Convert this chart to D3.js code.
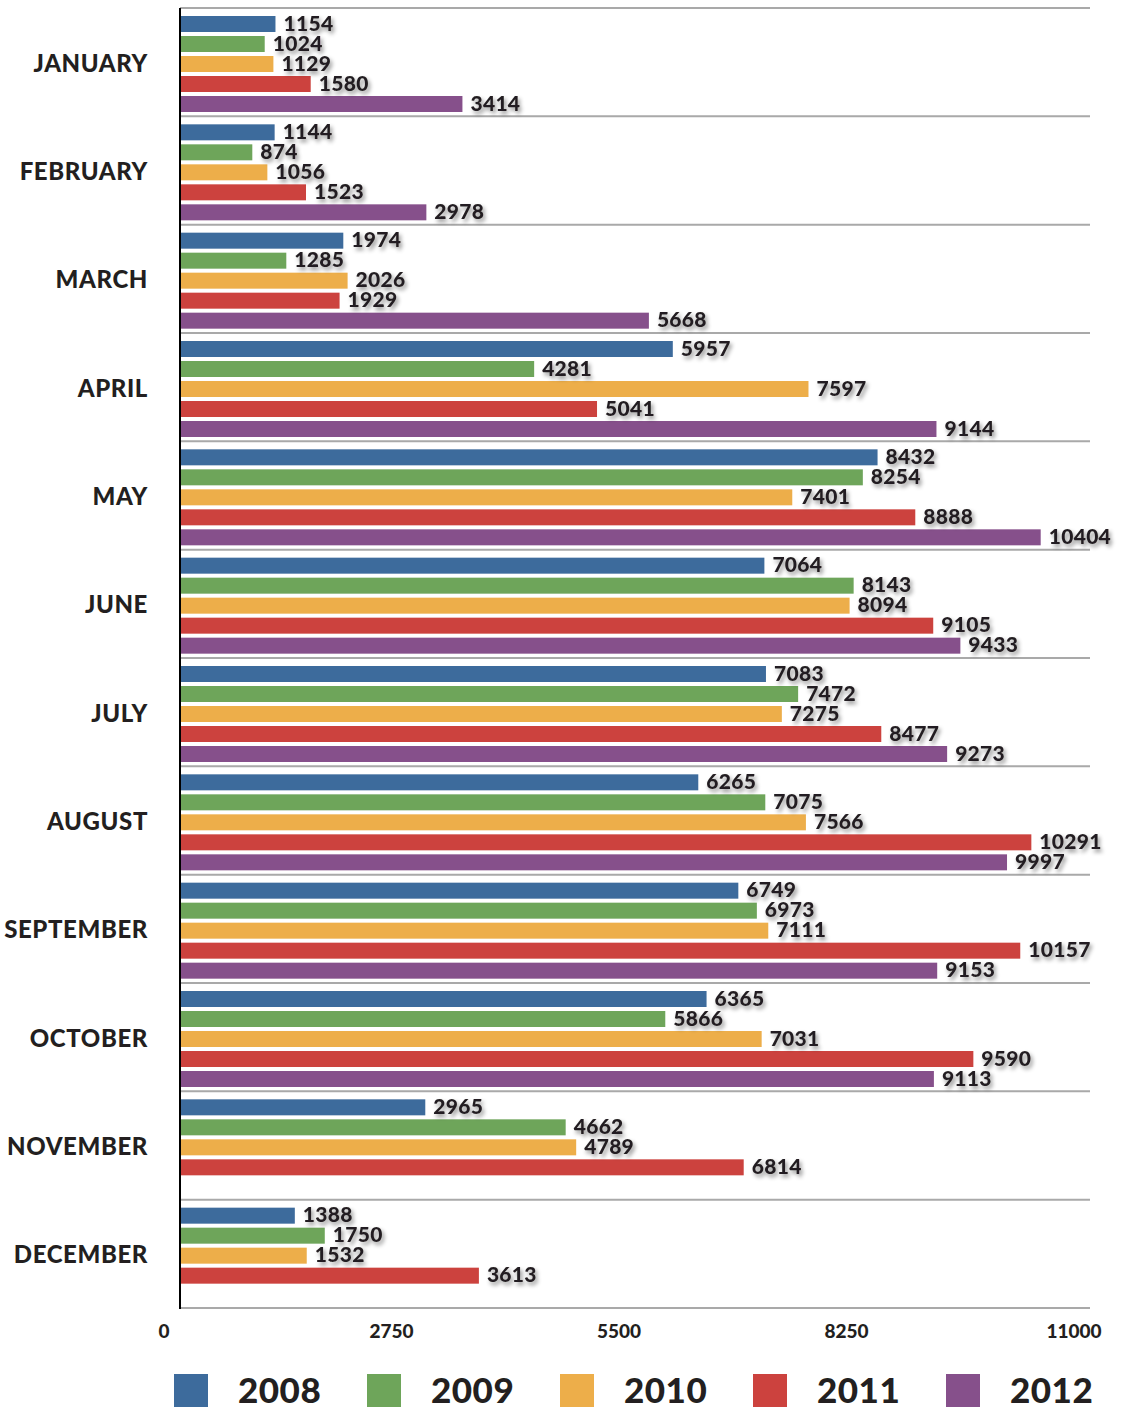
<!DOCTYPE html>
<html>
<head>
<meta charset="utf-8">
<script src="https://cdn.jsdelivr.net/npm/d3@7"></script>
<style>
  html, body { margin: 0; padding: 0; background: #fff; }
  svg { display: block; }
  text { font-family: "Lato", "DejaVu Sans", sans-serif; font-weight: 900; fill: #231f20; }
</style>
</head>
<body>
<script>
const months = ["JANUARY","FEBRUARY","MARCH","APRIL","MAY","JUNE","JULY","AUGUST","SEPTEMBER","OCTOBER","NOVEMBER","DECEMBER"];
const years = ["2008","2009","2010","2011","2012"];
const colors = ["#3d6b9c","#6ea55a","#edae4a","#cc423e","#86508b"];
const v2008 = [1154,1144,1974,5957,8432,7064,7083,6265,6749,6365,2965,1388];
const v2009 = [1024,874,1285,4281,8254,8143,7472,7075,6973,5866,4662,1750];
const v2010 = [1129,1056,2026,7597,7401,8094,7275,7566,7111,7031,4789,1532];
const v2011 = [1580,1523,1929,5041,8888,9105,8477,10291,10157,9590,6814,3613];
const v2012 = [3414,2978,5668,9144,10404,9433,9273,9997,9153,9113,null,null];
const tickValues = [0,2750,5500,8250,11000];

const series = [v2008,v2009,v2010,v2011,v2012];

const W = 1123, H = 1407;
const svg = d3.select("body").append("svg").attr("width", W).attr("height", H);

const defs = svg.append("defs");
const f = defs.append("filter").attr("id","sh").attr("x","-20%").attr("y","-40%").attr("width","150%").attr("height","200%");
f.append("feDropShadow").attr("dx",2).attr("dy",3).attr("stdDeviation",2).attr("flood-color","#000").attr("flood-opacity",0.45);

const x = d3.scaleLinear().domain([0,11000]).range([180,1090]);
const y = d3.scaleBand().domain(months).range([8,1308]).padding(0);
const yi = d3.scaleBand().domain(years).range([8,104]).paddingInner(0.2).paddingOuter(0);

// gridlines at band boundaries
const bounds = months.map(m => y(m)).concat([y.range()[1]]);
svg.append("g").selectAll("line").data(bounds).join("line")
  .attr("x1", x(0)).attr("x2", x(11000))
  .attr("y1", d => d).attr("y2", d => d)
  .attr("stroke", "#a9a9a9").attr("stroke-width", 2);

// bars
const data = [];
months.forEach((m, mi) => {
  years.forEach((yr, si) => {
    const v = series[si][mi];
    if (v != null) data.push({m, yr, si, v});
  });
});

const g = svg.append("g");
g.selectAll("rect").data(data).join("rect")
  .attr("x", x(0))
  .attr("y", d => y(d.m) + yi(d.yr))
  .attr("width", d => x(d.v) - x(0))
  .attr("height", yi.bandwidth())
  .attr("fill", d => colors[d.si]);

g.selectAll("text").data(data).join("text")
  .attr("x", d => x(d.v) + 8)
  .attr("y", d => y(d.m) + yi(d.yr) + yi.bandwidth()/2 - 2)
  .attr("dominant-baseline", "central")
  .attr("font-size", 21)
  .attr("letter-spacing", 0.3)
  .attr("filter", "url(#sh)")
  .text(d => d.v);

// left axis line
svg.append("line").attr("x1", x(0)).attr("x2", x(0))
  .attr("y1", y.range()[0]).attr("y2", y.range()[1] + 1)
  .attr("stroke", "#000").attr("stroke-width", 2);

// month labels
svg.append("g").selectAll("text").data(months).join("text")
  .attr("x", 148)
  .attr("y", d => y(d) + y.bandwidth()/2)
  .attr("text-anchor", "end")
  .attr("dominant-baseline", "central")
  .attr("font-size", 24)
  .attr("letter-spacing", 0.6)
  .text(d => d);

// x tick labels
svg.append("g").selectAll("text").data(tickValues).join("text")
  .attr("x", d => x(d) - 16)
  .attr("y", 1330)
  .attr("text-anchor", "middle")
  .attr("dominant-baseline", "central")
  .attr("font-size", 19)
  .text(d => d);

// legend
const lg = svg.append("g").selectAll("g").data(years).join("g")
  .attr("transform", (d, i) => `translate(${174 + i*193},1374)`);
lg.append("rect").attr("width", 34).attr("height", 34).attr("fill", (d, i) => colors[i]);
lg.append("text").attr("x", 64).attr("y", 29)
  .attr("font-size", 35).attr("letter-spacing", 0.5).text(d => d);
</script>
</body>
</html>
